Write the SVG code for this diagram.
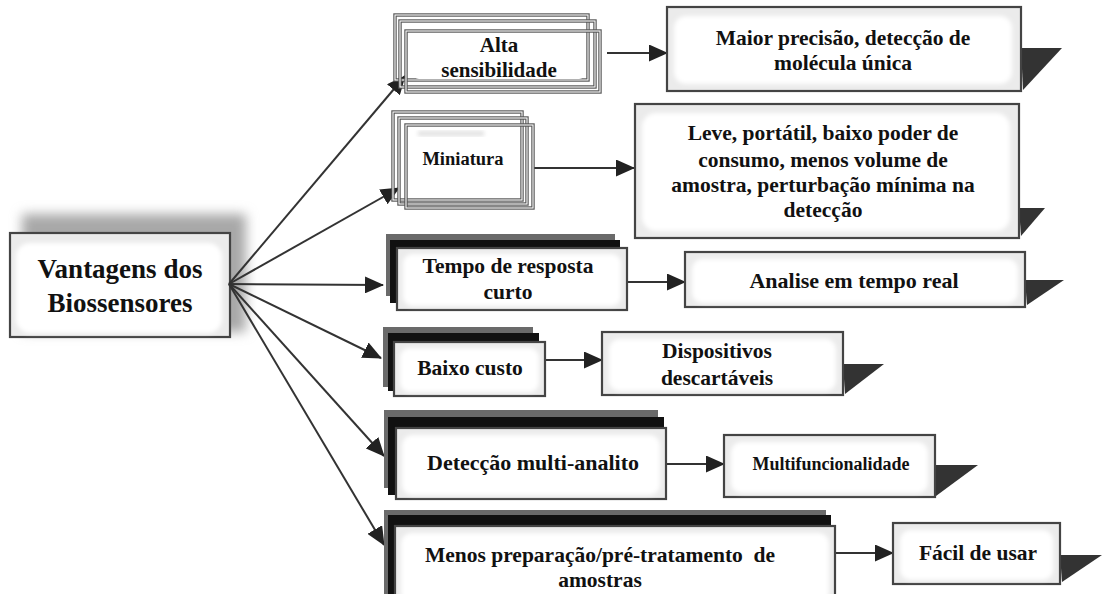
<svg xmlns="http://www.w3.org/2000/svg" width="1102" height="594" viewBox="0 0 1102 594">
  <defs>
    <style>
      .t { font-family: "Liberation Serif", "Times New Roman", serif; font-weight: bold; fill: #111; text-anchor: middle; }
      .box { fill: #ebebeb; stroke: #444; stroke-width: 2.2; }
      .inner { fill: #fff; filter: url(#soft); }
      .outline { fill: none; stroke: #555; stroke-width: 3.4; }
      .outline-in { fill: none; stroke: #fff; stroke-width: 1.1; }
      .back-grey { fill: #6a6a6a; }
      .back-black { fill: #111; }
      .tail { fill: #333; }
      .link { stroke: #333; stroke-width: 2; fill: none; marker-end: url(#ah); }
    </style>
    <filter id="soft" x="-5%" y="-10%" width="110%" height="120%">
      <feGaussianBlur stdDeviation="2"/>
    </filter>
    <filter id="haze" x="-20%" y="-30%" width="140%" height="160%">
      <feGaussianBlur stdDeviation="6"/>
    </filter>
    <marker id="ah" markerWidth="19" markerHeight="17" refX="18" refY="8.5" orient="auto" markerUnits="userSpaceOnUse">
      <path d="M0,0 L19,8.5 L0,17 z" fill="#222"/>
    </marker>
  </defs>

  <rect width="1102" height="594" fill="#fff"/>

  <!-- root node -->
  <g id="vantagens">
    <rect x="22" y="214" width="224" height="118" fill="#a8a8a8" filter="url(#haze)"/>
    <rect x="10" y="233" width="220" height="104" class="box"/>
    <rect x="16" y="243" width="206" height="90" rx="14" class="inner"/>
    <text class="t" x="120" y="278" font-size="27">Vantagens dos</text>
    <text class="t" x="120" y="312" font-size="27">Biossensores</text>
  </g>

  <!-- connectors -->
  <g id="connectors">
    <line class="link" x1="229" y1="284" x2="405" y2="76"/>
    <line class="link" x1="229" y1="284" x2="399" y2="188"/>
    <line class="link" x1="229" y1="284" x2="383" y2="285"/>
    <line class="link" x1="229" y1="284" x2="381" y2="358"/>
    <line class="link" x1="229" y1="284" x2="384" y2="456"/>
    <line class="link" x1="229" y1="284" x2="384" y2="545"/>

    <line class="link" x1="607" y1="53" x2="667" y2="53"/>
    <line class="link" x1="533" y1="168" x2="634" y2="168"/>
    <line class="link" x1="627" y1="282" x2="685" y2="282"/>
    <line class="link" x1="545" y1="360" x2="602" y2="360"/>
    <line class="link" x1="666" y1="464" x2="724" y2="464"/>
    <line class="link" x1="835" y1="553" x2="893" y2="553"/>
  </g>

  <!-- row 1 -->
  <g id="alta-sensibilidade">
    <rect x="395" y="15" width="193" height="65" class="outline"/>
    <rect x="395" y="15" width="193" height="65" class="outline-in"/>
    <rect x="400" y="21" width="195" height="66" class="outline"/>
    <rect x="400" y="21" width="195" height="66" class="outline-in"/>
    <rect x="406" y="31" width="194" height="61" class="outline"/>
    <rect x="406" y="31" width="194" height="61" class="outline-in"/>
    <rect x="413" y="34" width="172" height="45" rx="6" fill="#fff"/>
    <text class="t" x="499" y="52" font-size="21">Alta</text>
    <text class="t" x="499" y="77" font-size="21">sensibilidade</text>
  </g>
  <g id="maior-precisao">
    <polygon class="tail" points="1021,48 1062,48 1023,90"/>
    <rect x="667" y="7" width="354" height="84" class="box"/>
    <rect x="674" y="16" width="338" height="68" rx="12" class="inner"/>
    <text class="t" x="843" y="45" font-size="21.5">Maior precisão, detecção de</text>
    <text class="t" x="843" y="70" font-size="21.5">molécula única</text>
  </g>

  <!-- row 2 -->
  <g id="miniatura">
    <rect x="393" y="112" width="129" height="88" class="outline"/>
    <rect x="393" y="112" width="129" height="88" class="outline-in"/>
    <rect x="399" y="118" width="128" height="86" class="outline"/>
    <rect x="399" y="118" width="128" height="86" class="outline-in"/>
    <rect x="406" y="125" width="127" height="83" class="outline"/>
    <rect x="406" y="125" width="127" height="83" class="outline-in"/>
    <rect x="413" y="130" width="107" height="65" rx="6" fill="#fff"/>
    <rect x="418" y="131" width="66" height="5" fill="#e0e0e0" filter="url(#soft)"/>
    <text class="t" x="463" y="165" font-size="18.5">Miniatura</text>
  </g>
  <g id="leve-portatil">
    <polygon class="tail" points="1019,208 1045,208 1021,236"/>
    <rect x="635" y="104" width="384" height="134" class="box"/>
    <rect x="642" y="113" width="368" height="118" rx="14" class="inner"/>
    <text class="t" x="823" y="140" font-size="21.5">Leve, portátil, baixo poder de</text>
    <text class="t" x="823" y="167" font-size="21.5">consumo, menos volume de</text>
    <text class="t" x="823" y="192" font-size="21.5">amostra, perturbação mínima na</text>
    <text class="t" x="823" y="217" font-size="21.5">detecção</text>
  </g>

  <!-- row 3 -->
  <g id="tempo-resposta">
    <rect x="386" y="234" width="229" height="62" class="back-grey"/>
    <rect x="390" y="240" width="230" height="63" class="back-black"/>
    <rect x="397" y="248" width="230" height="62" class="box"/>
    <rect x="403" y="254" width="218" height="52" rx="9" class="inner"/>
    <text class="t" x="508" y="273" font-size="21.5">Tempo de resposta</text>
    <text class="t" x="508" y="299" font-size="21.5">curto</text>
  </g>
  <g id="analise-tempo-real">
    <polygon class="tail" points="1025,280 1064,280 1027,305"/>
    <rect x="685" y="252" width="340" height="55" class="box"/>
    <rect x="692" y="259" width="326" height="44" rx="10" class="inner"/>
    <text class="t" x="854" y="288" font-size="22">Analise em tempo real</text>
  </g>

  <!-- row 4 -->
  <g id="baixo-custo">
    <rect x="383" y="327" width="150" height="60" class="back-grey"/>
    <rect x="388" y="333" width="151" height="58" class="back-black"/>
    <rect x="394" y="342" width="151" height="54" class="box"/>
    <rect x="400" y="348" width="139" height="44" rx="9" class="inner"/>
    <text class="t" x="470" y="375" font-size="21.5">Baixo custo</text>
  </g>
  <g id="dispositivos">
    <polygon class="tail" points="843,364 884,364 845,394"/>
    <rect x="602" y="332" width="241" height="63" class="box"/>
    <rect x="609" y="339" width="227" height="52" rx="10" class="inner"/>
    <text class="t" x="717" y="358" font-size="21.5">Dispositivos</text>
    <text class="t" x="717" y="385" font-size="21.5">descartáveis</text>
  </g>

  <!-- row 5 -->
  <g id="deteccao-multi">
    <rect x="384" y="410" width="274" height="78" class="back-grey"/>
    <rect x="388" y="417" width="276" height="78" class="back-black"/>
    <rect x="396" y="428" width="270" height="71" class="box"/>
    <rect x="402" y="435" width="258" height="60" rx="10" class="inner"/>
    <text class="t" x="533" y="470" font-size="22">Detecção multi-analito</text>
  </g>
  <g id="multifuncionalidade">
    <polygon class="tail" points="935,465 978,465 936,496"/>
    <rect x="724" y="435" width="211" height="62" class="box"/>
    <rect x="731" y="442" width="197" height="51" rx="10" class="inner"/>
    <text class="t" x="831" y="470" font-size="18">Multifuncionalidade</text>
  </g>

  <!-- row 6 -->
  <g id="menos-preparacao">
    <rect x="384" y="510" width="442" height="90" class="back-grey"/>
    <rect x="388" y="515" width="443" height="90" class="back-black"/>
    <rect x="395" y="526" width="440" height="80" class="box"/>
    <rect x="401" y="533" width="428" height="70" rx="10" class="inner"/>
    <text class="t" x="600" y="562" font-size="21.5">Menos preparação/pré-tratamento&#160; de</text>
    <text class="t" x="600" y="587" font-size="21.5">amostras</text>
  </g>
  <g id="facil-de-usar">
    <polygon class="tail" points="1060,555 1102,555 1062,582"/>
    <rect x="893" y="523" width="167" height="61" class="box"/>
    <rect x="900" y="530" width="153" height="50" rx="10" class="inner"/>
    <text class="t" x="978" y="560" font-size="21.5">Fácil de usar</text>
  </g>
</svg>
